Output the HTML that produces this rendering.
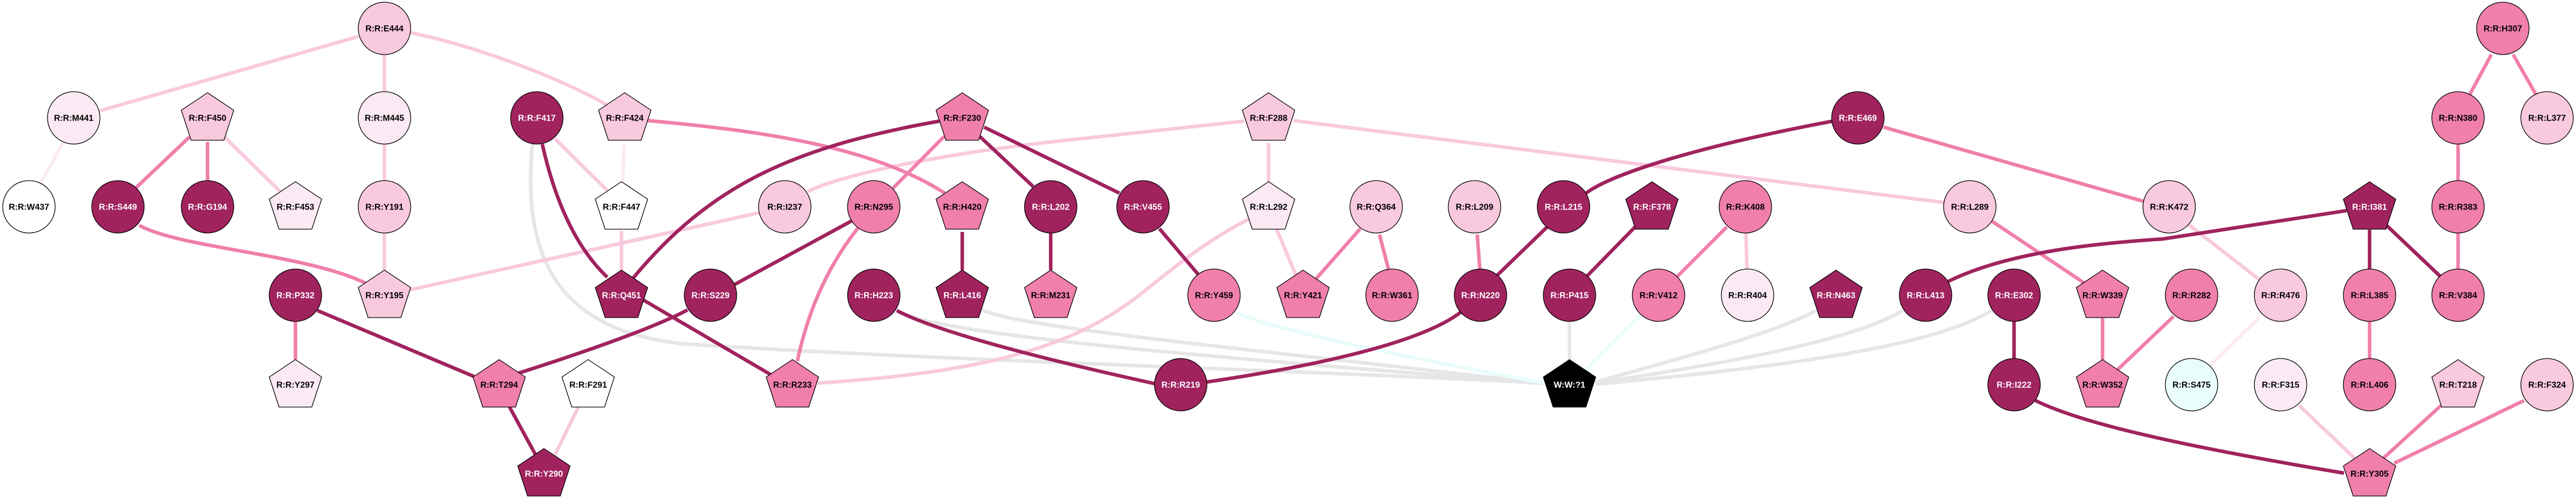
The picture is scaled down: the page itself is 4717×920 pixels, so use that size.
<!DOCTYPE html>
<html>
<head>
<meta charset="utf-8">
<style>
html,body{margin:0;padding:0;background:#fff;}
svg{display:block;}
.e{fill:none;stroke-width:6.5;}
.d{stroke:#a0235e;}
.m{stroke:#f07fab;}
.l{stroke:#f9c9de;}
.v{stroke:#fbeaf3;}
.g{stroke:#e6e6e6;}
.c{stroke:#e8fcfc;}
.n{stroke:#000;stroke-width:1.3;}
.fD{fill:#a0235e;}
.fM{fill:#f07fab;}
.fL{fill:#f9c9de;}
.fV{fill:#fbeaf3;}
.fW{fill:#ffffff;}
.fC{fill:#e9fdfd;}
.fK{fill:#000000;}
text{font-family:"Liberation Sans",Arial,sans-serif;font-weight:bold;font-size:15.7px;text-anchor:middle;fill:#000;}
text.w{fill:#fff;}
</style>
</head>
<body>
<svg width="4717" height="920" viewBox="0 0 4717 920" xmlns="http://www.w3.org/2000/svg">
<!-- gray / cyan edges -->
<path class="e g" d="M975,264 C955,470 1020,605 1250,630 C1700,660 2300,675 2826,702"/>
<path class="e g" d="M1645,572 C1750,620 2300,660 2826,703"/>
<path class="e g" d="M1795,566 C1850,600 2300,640 2826,703"/>
<path class="e g" d="M2874,589 L2874,659"/>
<path class="e g" d="M3326,569 C3250,610 3100,650 2922,700"/>
<path class="e g" d="M3484,569 C3400,620 3200,660 2922,702"/>
<path class="e g" d="M3647,569 C3550,630 3300,670 2922,704"/>
<path class="e c" d="M2265,573 C2320,600 2500,640 2826,702"/>
<path class="e c" d="M3004,578 L2904,678"/>
<!-- light edges -->
<path class="e l" d="M183,203 L656,67"/>
<path class="e l" d="M411,251 L513,351"/>
<path class="e l" d="M704,100 L704,168"/>
<path class="e l" d="M704,264 L704,331"/>
<path class="e l" d="M704,427 L704,495"/>
<path class="e l" d="M752,60 C850,80 1000,130 1111,192"/>
<path class="e l" d="M751,531 L1390,390"/>
<path class="e l" d="M1016,254 L1114,351"/>
<path class="e l" d="M1138,423 L1138,497"/>
<path class="e l" d="M1059,746 L1016,834"/>
<path class="e l" d="M1497,702 C1850,680 1990,620 2100,530 C2180,465 2230,430 2290,400"/>
<path class="e l" d="M1479,351 C1530,325 1700,282 2000,252 L2278,222"/>
<path class="e l" d="M2323,262 L2323,333"/>
<path class="e l" d="M2337,419 L2373,504"/>
<path class="e l" d="M2368,221 L3559,371"/>
<path class="e l" d="M3197,427 L3199,495"/>
<path class="e l" d="M4008,412 L4138,513"/>
<path class="e l" d="M4210,743 L4312,840"/>
<!-- very light edges -->
<path class="e v" d="M115,262 L74,337"/>
<path class="e v" d="M1143,262 L1140,335"/>
<path class="e v" d="M4138,581 L4045,672"/>
<!-- medium edges -->
<path class="e m" d="M347,251 L248,345"/>
<path class="e m" d="M380,260 L380,331"/>
<path class="e m" d="M255,413 C330,455 560,465 672,520"/>
<path class="e m" d="M541,589 L541,659"/>
<path class="e m" d="M1186,221 C1400,240 1600,270 1730,354"/>
<path class="e m" d="M1729,250 L1635,345"/>
<path class="e m" d="M1571,418 Q1490,520 1460,662"/>
<path class="e m" d="M2491,419 L2408,513"/>
<path class="e m" d="M2526,430 L2543,495"/>
<path class="e m" d="M2705,430 L2710,495"/>
<path class="e m" d="M3162,416 L3071,507"/>
<path class="e m" d="M3449,233 L3925,369"/>
<path class="e m" d="M3647,405 L3817,519"/>
<path class="e m" d="M3850,583 L3850,659"/>
<path class="e m" d="M3980,580 L3877,678"/>
<path class="e m" d="M4562,100 L4522,174"/>
<path class="e m" d="M4602,100 L4644,174"/>
<path class="e m" d="M4501,264 L4501,331"/>
<path class="e m" d="M4501,427 L4501,493"/>
<path class="e m" d="M4339,589 L4339,657"/>
<path class="e m" d="M4470,743 L4364,840"/>
<path class="e m" d="M4622,734 L4384,849"/>
<!-- dark edges -->
<path class="e d" d="M581,569 L868,690"/>
<path class="e d" d="M993,264 Q1030,430 1112,508"/>
<path class="e d" d="M933,746 L981,834"/>
<path class="e d" d="M949,684 Q1180,610 1259,568"/>
<path class="e d" d="M1175,548 L1412,687"/>
<path class="e d" d="M1159,510 C1300,340 1450,270 1720,222"/>
<path class="e d" d="M1344,522 L1561,404"/>
<path class="e d" d="M1794,250 L1892,342"/>
<path class="e d" d="M1802,233 L2050,354"/>
<path class="e d" d="M1762,425 L1762,495"/>
<path class="e d" d="M1924,427 L1924,495"/>
<path class="e d" d="M1642,569 C1700,600 1850,645 2114,703"/>
<path class="e d" d="M2210,700 C2400,672 2600,630 2675,572"/>
<path class="e d" d="M2123,419 L2195,504"/>
<path class="e d" d="M2741,505 L2833,416"/>
<path class="e d" d="M2904,354 C2950,320 3100,270 3356,222"/>
<path class="e d" d="M2994,416 L2906,506"/>
<path class="e d" d="M3567,516 C3680,460 3850,445 3960,438 L4297,386"/>
<path class="e d" d="M3688,589 L3688,657"/>
<path class="e d" d="M3727,734 C3800,770 3950,810 4292,867"/>
<path class="e d" d="M4339,421 L4339,493"/>
<path class="e d" d="M4370,413 L4469,507"/>

<!-- nodes -->
<circle class="n fL" cx="704" cy="52" r="48"/><text x="704" y="57.5">R:R:E444</text>
<circle class="n fV" cx="135" cy="216" r="48"/><text x="135" y="221.5">R:R:M441</text>
<circle class="n fW" cx="53" cy="379" r="48"/><text x="53" y="384.5">R:R:W437</text>
<polygon class="n fL" points="380,170 428,202 410,257 350,257 332,202"/><text x="380" y="221.5">R:R:F450</text>
<circle class="n fD" cx="216" cy="379" r="48"/><text class="w" x="216" y="384.5">R:R:S449</text>
<circle class="n fD" cx="380" cy="379" r="48"/><text class="w" x="380" y="384.5">R:R:G194</text>
<polygon class="n fV" points="541,333 589,365 571,420 511,420 493,365"/><text x="541" y="384.5">R:R:F453</text>
<circle class="n fV" cx="704" cy="216" r="48"/><text x="704" y="221.5">R:R:M445</text>
<circle class="n fL" cx="704" cy="379" r="48"/><text x="704" y="384.5">R:R:Y191</text>
<polygon class="n fL" points="704,495 752,527 734,582 674,582 656,527"/><text x="704" y="546.5">R:R:Y195</text>
<circle class="n fD" cx="541" cy="541" r="48"/><text class="w" x="541" y="546.5">R:R:P332</text>
<polygon class="n fV" points="541,659 589,691 571,746 511,746 493,691"/><text x="541" y="710.5">R:R:Y297</text>
<circle class="n fD" cx="983" cy="216" r="48"/><text class="w" x="983" y="221.5">R:R:F417</text>
<polygon class="n fL" points="1144,170 1192,202 1174,257 1114,257 1096,202"/><text x="1144" y="221.5">R:R:F424</text>
<polygon class="n fW" points="1138,333 1186,365 1168,420 1108,420 1090,365"/><text x="1138" y="384.5">R:R:F447</text>
<polygon class="n fD" points="1138,495 1186,527 1168,582 1108,582 1090,527"/><text class="w" x="1138" y="546.5">R:R:Q451</text>
<polygon class="n fM" points="914,659 962,691 944,746 884,746 866,691"/><text x="914" y="710.5">R:R:T294</text>
<polygon class="n fW" points="1077,659 1125,691 1107,746 1047,746 1029,691"/><text x="1077" y="710.5">R:R:F291</text>
<polygon class="n fD" points="996,822 1044,854 1026,909 966,909 948,854"/><text class="w" x="996" y="873.5">R:R:Y290</text>
<circle class="n fL" cx="1437" cy="379" r="48"/><text x="1437" y="384.5">R:R:I237</text>
<circle class="n fD" cx="1301" cy="541" r="48"/><text class="w" x="1301" y="546.5">R:R:S229</text>
<polygon class="n fM" points="1451,659 1499,691 1481,746 1421,746 1403,691"/><text x="1451" y="710.5">R:R:R233</text>
<circle class="n fM" cx="1600" cy="379" r="48"/><text x="1600" y="384.5">R:R:N295</text>
<circle class="n fD" cx="1600" cy="541" r="48"/><text class="w" x="1600" y="546.5">R:R:H223</text>
<polygon class="n fM" points="1762,170 1810,202 1792,257 1732,257 1714,202"/><text x="1762" y="221.5">R:R:F230</text>
<polygon class="n fM" points="1762,333 1810,365 1792,420 1732,420 1714,365"/><text x="1762" y="384.5">R:R:H420</text>
<polygon class="n fD" points="1762,495 1810,527 1792,582 1732,582 1714,527"/><text class="w" x="1762" y="546.5">R:R:L416</text>
<circle class="n fD" cx="1924" cy="379" r="48"/><text class="w" x="1924" y="384.5">R:R:L202</text>
<polygon class="n fM" points="1924,495 1972,527 1954,582 1894,582 1876,527"/><text x="1924" y="546.5">R:R:M231</text>
<circle class="n fD" cx="2093" cy="379" r="48"/><text class="w" x="2093" y="384.5">R:R:V455</text>
<circle class="n fM" cx="2223" cy="541" r="48"/><text x="2223" y="546.5">R:R:Y459</text>
<circle class="n fD" cx="2162" cy="705" r="48"/><text class="w" x="2162" y="710.5">R:R:R219</text>
<polygon class="n fL" points="2323,170 2371,202 2353,257 2293,257 2275,202"/><text x="2323" y="221.5">R:R:F288</text>
<polygon class="n fV" points="2323,333 2371,365 2353,420 2293,420 2275,365"/><text x="2323" y="384.5">R:R:L292</text>
<polygon class="n fM" points="2386,495 2434,527 2416,582 2356,582 2338,527"/><text x="2386" y="546.5">R:R:Y421</text>
<circle class="n fL" cx="2520" cy="379" r="48"/><text x="2520" y="384.5">R:R:Q364</text>
<circle class="n fM" cx="2549" cy="541" r="48"/><text x="2549" y="546.5">R:R:W361</text>
<circle class="n fL" cx="2700" cy="379" r="48"/><text x="2700" y="384.5">R:R:L209</text>
<circle class="n fD" cx="2711" cy="541" r="48"/><text class="w" x="2711" y="546.5">R:R:N220</text>
<circle class="n fD" cx="2863" cy="379" r="48"/><text class="w" x="2863" y="384.5">R:R:L215</text>
<polygon class="n fD" points="3025,333 3073,365 3055,420 2995,420 2977,365"/><text class="w" x="3025" y="384.5">R:R:F378</text>
<circle class="n fD" cx="2874" cy="541" r="48"/><text class="w" x="2874" y="546.5">R:R:P415</text>
<circle class="n fM" cx="3037" cy="541" r="48"/><text x="3037" y="546.5">R:R:V412</text>
<polygon class="n fK" points="2874,659 2922,691 2904,746 2844,746 2826,691"/><text class="w" x="2874" y="710.5">W:W:?1</text>
<circle class="n fD" cx="3402" cy="216" r="48"/><text class="w" x="3402" y="221.5">R:R:E469</text>
<circle class="n fM" cx="3196" cy="379" r="48"/><text x="3196" y="384.5">R:R:K408</text>
<circle class="n fV" cx="3200" cy="541" r="48"/><text x="3200" y="546.5">R:R:R404</text>
<polygon class="n fD" points="3362,495 3410,527 3392,582 3332,582 3314,527"/><text class="w" x="3362" y="546.5">R:R:N463</text>
<circle class="n fD" cx="3526" cy="541" r="48"/><text class="w" x="3526" y="546.5">R:R:L413</text>
<circle class="n fL" cx="3607" cy="379" r="48"/><text x="3607" y="384.5">R:R:L289</text>
<circle class="n fD" cx="3688" cy="541" r="48"/><text class="w" x="3688" y="546.5">R:R:E302</text>
<circle class="n fD" cx="3688" cy="705" r="48"/><text class="w" x="3688" y="710.5">R:R:I222</text>
<polygon class="n fM" points="3850,495 3898,527 3880,582 3820,582 3802,527"/><text x="3850" y="546.5">R:R:W339</text>
<polygon class="n fM" points="3850,659 3898,691 3880,746 3820,746 3802,691"/><text x="3850" y="710.5">R:R:W352</text>
<circle class="n fL" cx="3972" cy="379" r="48"/><text x="3972" y="384.5">R:R:K472</text>
<circle class="n fM" cx="4013" cy="541" r="48"/><text x="4013" y="546.5">R:R:R282</text>
<circle class="n fL" cx="4176" cy="541" r="48"/><text x="4176" y="546.5">R:R:R476</text>
<circle class="n fC" cx="4013" cy="705" r="48"/><text x="4013" y="710.5">R:R:S475</text>
<circle class="n fV" cx="4176" cy="705" r="48"/><text x="4176" y="710.5">R:R:F315</text>
<polygon class="n fD" points="4339,333 4387,365 4369,420 4309,420 4291,365"/><text class="w" x="4339" y="384.5">R:R:I381</text>
<circle class="n fM" cx="4339" cy="541" r="48"/><text x="4339" y="546.5">R:R:L385</text>
<circle class="n fM" cx="4339" cy="705" r="48"/><text x="4339" y="710.5">R:R:L406</text>
<polygon class="n fM" points="4339,822 4387,854 4369,909 4309,909 4291,854"/><text x="4339" y="873.5">R:R:Y305</text>
<polygon class="n fL" points="4501,659 4549,691 4531,746 4471,746 4453,691"/><text x="4501" y="710.5">R:R:T218</text>
<circle class="n fL" cx="4664" cy="705" r="48"/><text x="4664" y="710.5">R:R:F324</text>
<circle class="n fM" cx="4583" cy="52" r="48"/><text x="4583" y="57.5">R:R:H307</text>
<circle class="n fM" cx="4501" cy="216" r="48"/><text x="4501" y="221.5">R:R:N380</text>
<circle class="n fL" cx="4664" cy="216" r="48"/><text x="4664" y="221.5">R:R:L377</text>
<circle class="n fM" cx="4501" cy="379" r="48"/><text x="4501" y="384.5">R:R:R383</text>
<circle class="n fM" cx="4501" cy="541" r="48"/><text x="4501" y="546.5">R:R:V384</text>
</svg>
</body>
</html>
